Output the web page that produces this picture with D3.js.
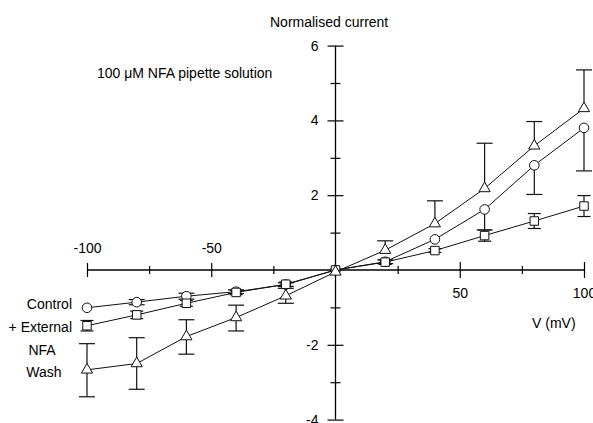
<!DOCTYPE html>
<html>
<head>
<meta charset="utf-8">
<script src="https://cdn.jsdelivr.net/npm/d3@7"></script>
<style>
    body { margin: 0; background: #fff; overflow: hidden; }
    svg { display: block; font-family: "Liberation Sans", Arial, sans-serif; }
    .lbl { font-size: 14px; fill: #000; }
</style>
</head>
<body>
<div id="chart"></div>
<script>
// membrane potential (mV)
const voltages = [-100, -80, -60, -40, -20, 0, 20, 40, 60, 80, 100];

// Control (circles)
const control = [-1.01, -0.86, -0.70, -0.58, -0.39, 0, 0.22, 0.82, 1.62, 2.80, 3.80];
const controlErrUp = [0, 0.07, 0.08, 0.05, 0.05, 0, 0.05, 0, 0, 0, 0];
const controlErrDown = [0, 0.07, 0.08, 0.05, 0.05, 0, 0.05, 0, 0.55, 0.78, 1.15];

// + External NFA (squares)
const external = [-1.49, -1.20, -0.89, -0.60, -0.38, 0, 0.21, 0.52, 0.92, 1.31, 1.71];
const externalErr = [0.14, 0.10, 0.08, 0.06, 0.06, 0, 0.06, 0.05, 0.15, 0.20, 0.28];

// Wash (triangles)
const wash = [-2.67, -2.50, -1.78, -1.27, -0.69, -0.05, 0.53, 1.24, 2.18, 3.32, 4.32];
const washErrUp = [0.70, 0.69, 0.45, 0.33, 0.20, 0, 0.25, 0.61, 1.21, 0.65, 1.03];
const washErrDown = [0.72, 0.69, 0.47, 0.36, 0.20, 0, 0, 0, 0, 0, 0];

// axis ticks
const yMajor = [6, 4, 2, -2, -4];
const yMinor = [5, 3, 1, -1, -3];
const xTop = [-100, -50];
const xBottom = [50, 100];
const xMinor = [-75, -25, 25, 75];

var width = 593, height = 423;

var svg = d3.select("#chart").append("svg")
    .attr("width", width)
    .attr("height", height);

var xScale = d3.scaleLinear().domain([-100, 100]).range([87, 584]);
var yScale = d3.scaleLinear().domain([-4, 6]).range([419.6, 45.6]);

var x0 = xScale(0), y0 = yScale(0);
var plain = function (d) { return String(d); }; // keep ascii hyphen like the original

// y axis, majors with labels
var yAx = svg.append("g")
    .attr("transform", `translate(${x0},0)`)
    .call(d3.axisLeft(yScale).tickValues(yMajor).tickSize(0).tickPadding(17).tickFormat(plain))
    .style("font-size", "14px")
    .style("font-family", "Liberation Sans, Arial, sans-serif");
yAx.select(".domain").attr("d", `M0,${yScale(6)}V${yScale(-4)}`).attr("stroke-width", 1.3);
yAx.selectAll(".tick line").attr("x1", -8).attr("x2", 8).attr("stroke-width", 1.2);

var yAxMinor = svg.append("g")
    .attr("transform", `translate(${x0},0)`)
    .call(d3.axisLeft(yScale).tickValues(yMinor).tickSize(0).tickFormat(""));
yAxMinor.select(".domain").remove();
yAxMinor.selectAll(".tick line").attr("x1", -5).attr("x2", 5).attr("stroke-width", 1.2);

// x axis, negative labels above, positive below
var xAxTop = svg.append("g")
    .attr("transform", `translate(0,${y0})`)
    .call(d3.axisTop(xScale).tickValues(xTop).tickSize(0).tickPadding(17).tickFormat(plain))
    .style("font-size", "14px")
    .style("font-family", "Liberation Sans, Arial, sans-serif");
xAxTop.select(".domain").attr("d", `M${xScale(-100)},0H${xScale(100)}`).attr("stroke-width", 1.3);
xAxTop.selectAll(".tick line").attr("y1", -7).attr("y2", 7).attr("stroke-width", 1.2);

var xAxBottom = svg.append("g")
    .attr("transform", `translate(0,${y0})`)
    .call(d3.axisBottom(xScale).tickValues(xBottom).tickSize(0).tickPadding(18).tickFormat(plain))
    .style("font-size", "14px")
    .style("font-family", "Liberation Sans, Arial, sans-serif");
xAxBottom.select(".domain").remove();
xAxBottom.selectAll(".tick line").attr("y1", -8).attr("y2", 8).attr("stroke-width", 1.2);

var xAxMinor = svg.append("g")
    .attr("transform", `translate(0,${y0})`)
    .call(d3.axisBottom(xScale).tickValues(xMinor).tickSize(0).tickFormat(""));
xAxMinor.select(".domain").remove();
xAxMinor.selectAll(".tick line").attr("y1", -4).attr("y2", 4).attr("stroke-width", 1.2);

// series
var series = [
    {name: "control", values: control, up: controlErrUp, down: controlErrDown, symbol: d3.symbolCircle, size: 72, cap: 16},
    {name: "external", values: external, up: externalErr, down: externalErr, symbol: d3.symbolSquare, size: 72, cap: 13},
    {name: "wash", values: wash, up: washErrUp, down: washErrDown, symbol: d3.symbolTriangle, size: 54, cap: 16}
];

var line = d3.line()
    .x(function (d) { return xScale(d.v); })
    .y(function (d) { return yScale(d.y); });

series.forEach(function (s) {
    s.points = voltages.map(function (v, i) {
        return {v: v, y: s.values[i], up: s.up[i], down: s.down[i]};
    });
});

// connecting lines
svg.append("g").selectAll("path")
    .data(series)
    .join("path")
    .attr("d", function (s) { return line(s.points); })
    .attr("fill", "none")
    .attr("stroke", "#111")
    .attr("stroke-width", 1);

// error bars
series.forEach(function (s) {
    var g = svg.append("g").attr("stroke", "#111").attr("stroke-width", 1.2);
    s.points.forEach(function (p) {
        var cx = xScale(p.v);
        if (p.up > 0) {
            g.append("line").attr("x1", cx).attr("x2", cx).attr("y1", yScale(p.y)).attr("y2", yScale(p.y + p.up));
            g.append("line").attr("x1", cx - s.cap / 2).attr("x2", cx + s.cap / 2).attr("y1", yScale(p.y + p.up)).attr("y2", yScale(p.y + p.up));
        }
        if (p.down > 0) {
            g.append("line").attr("x1", cx).attr("x2", cx).attr("y1", yScale(p.y)).attr("y2", yScale(p.y - p.down));
            g.append("line").attr("x1", cx - s.cap / 2).attr("x2", cx + s.cap / 2).attr("y1", yScale(p.y - p.down)).attr("y2", yScale(p.y - p.down));
        }
    });
});

// markers
series.forEach(function (s) {
    svg.append("g").selectAll("path")
        .data(s.points)
        .join("path")
        .attr("d", d3.symbol().type(s.symbol).size(s.size))
        .attr("transform", function (d) { return `translate(${xScale(d.v)},${yScale(d.y)})`; })
        .attr("fill", "#fff")
        .attr("stroke", "#111")
        .attr("stroke-width", 1);
});

// texts
svg.append("text").attr("class", "lbl").attr("x", 270).attr("y", 27).text("Normalised current");
svg.append("text").attr("class", "lbl").attr("x", 97).attr("y", 78).text("100 μM NFA pipette solution");
svg.append("text").attr("class", "lbl").attr("x", 532).attr("y", 328).text("V (mV)");

svg.append("text").attr("class", "lbl").attr("x", 72).attr("y", 309).attr("text-anchor", "end").text("Control");
svg.append("text").attr("class", "lbl").attr("x", 72).attr("y", 332).attr("text-anchor", "end").text("+ External");
svg.append("text").attr("class", "lbl").attr("x", 42).attr("y", 355).attr("text-anchor", "middle").text("NFA");
svg.append("text").attr("class", "lbl").attr("x", 44).attr("y", 377).attr("text-anchor", "middle").text("Wash");
</script>
</body>
</html>
